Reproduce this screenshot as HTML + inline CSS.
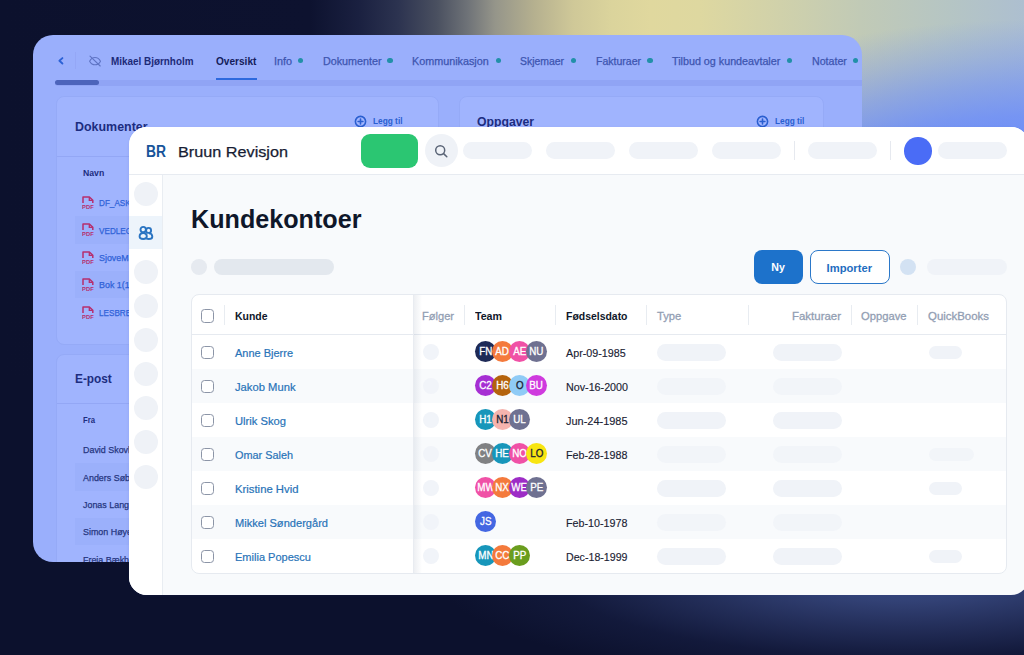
<!DOCTYPE html>
<html lang="no">
<head>
<meta charset="utf-8">
<title>Kundekontoer</title>
<style>
*{box-sizing:border-box;margin:0;padding:0}
html,body{width:1024px;height:655px;overflow:hidden}
body{font-family:"Liberation Sans",sans-serif;position:relative;background:#0c112d;
background-image:
 radial-gradient(ellipse 470px 112px at 905px 574px, rgba(60,76,132,1) 0%, rgba(54,70,124,.95) 22%, rgba(44,57,106,.72) 48%, rgba(30,40,84,.36) 74%, rgba(12,17,45,0) 100%),
 linear-gradient(180deg, rgba(12,17,45,0) 0px, rgba(12,17,45,0) 300px, #0c112d 380px, #0c112d 655px),
 radial-gradient(ellipse 500px 260px at 1024px 280px, rgba(104,138,252,.88) 0%, rgba(104,138,252,.86) 58%, rgba(104,138,252,.8) 63%, rgba(104,138,252,.55) 75%, rgba(104,138,252,.29) 86%, rgba(104,136,250,.06) 97%, rgba(104,136,250,0) 100%),
 linear-gradient(90deg, #0c112d 0px, #0d122f 310px, #1a2040 358px, #2c3350 398px, #4a5060 437px, #6f7378 468px, #95958a 495px, #b5b08f 534px, #cfc898 573px, #dbd49c 612px, #e0d89e 651px, #ded8a0 700px, #d2d2a9 770px, #c1cab6 860px, #b5c5c4 950px, #adbfd0 1024px);
}
.abs{position:absolute}
/* back panel */
#back{left:33px;top:35px;width:829px;height:527px;background:#9aaffc;border-radius:20px;overflow:hidden;color:#1d2a6e}
.bcard{position:absolute;background:#a0b4fe;border:1px solid #95aaf7;border-radius:8px}
.nv{position:absolute;font-size:10px;line-height:14px;color:#3d55b0;-webkit-text-stroke:.25px #3d55b0}
.nv.b1{color:#1c2a78;font-weight:bold;-webkit-text-stroke:0}
.nv.b2{color:#141c5a;font-weight:bold;-webkit-text-stroke:0}
.nd{position:absolute;width:5.2px;height:5.2px;border-radius:50%;background:#2190a8}
.legg{font-size:9.3px;font-weight:bold;color:#2a5fd0;line-height:12px}
/* front panel */
#front{left:129px;top:127px;width:900px;height:468px;background:#f8fafc;border-radius:18px 18px 18px 18px;overflow:hidden;box-shadow:0 1px 3px rgba(40,60,140,.10)}
#fhead{left:0;top:0;width:100%;height:48px;background:#fff;border-bottom:1px solid #e7ebf1}
#fside{left:0;top:48px;width:34px;height:420px;background:#fff;border-right:1px solid #e9edf2}
.pill{position:absolute;background:#f0f3f8;border-radius:99px}
.dot{position:absolute;border-radius:50%;background:#eff2f7}
#tbl{left:61px;top:168px;width:818px;height:279px;background:#fff;border:1px solid #e6eaf0;border-radius:8px;overflow:hidden}
.tr{position:absolute;left:0;width:100%;height:34px}
.tr.alt{background:#f8fafc}
.tr.alt .pill{background:#f2f5f9}
.th{position:absolute;top:1px;height:40px;line-height:40px;font-size:11.5px;font-weight:bold;color:#0f172a;white-space:nowrap}
.th.g{color:#929eb3;font-weight:normal;-webkit-text-stroke:.3px #929eb3}
.sep{position:absolute;top:10px;width:1px;height:20px;background:#e8ecf1}
.cb{position:absolute;left:10px;width:13.5px;height:13.5px;border:1.7px solid #8c95a7;border-radius:3.5px;background:#fff}
.nm{position:absolute;left:44px;top:.6px;font-size:11.5px;color:#2873b8;-webkit-text-stroke:.2px #2873b8;line-height:34px;white-space:nowrap}
.dt{position:absolute;left:375px;top:.8px;font-size:11.5px;color:#1a2233;-webkit-text-stroke:.15px #1a2233;line-height:34px;white-space:nowrap}
.av{position:absolute;width:21px;height:21px;border-radius:50%;font-size:10px;font-weight:normal;-webkit-text-stroke:.3px currentColor;letter-spacing:.1px;color:#fff;text-align:center;line-height:21px;top:6px;overflow:hidden}
.av span{transform-origin:50% 50%;transform:scaleX(.98)}
.tx{display:inline-block;transform-origin:0 50%;white-space:nowrap}
.btn{border-radius:8px;font-size:11px;font-weight:bold;text-align:center;line-height:34px}
.btn span{transform-origin:50% 50%}
</style>
<style id="scales">
#t_br{transform:scaleX(0.8654)}
#t_bruun{transform:scaleX(1.0680)}
#t_title{transform:scaleX(0.9828)}
#t_ny{transform:scaleX(0.9600)}
#t_imp{transform:scaleX(1.0196)}
#t_n0{transform:scaleX(0.9550)}
#t_n1{transform:scaleX(0.9756)}
#t_n2{transform:scaleX(0.9732)}
#t_n3{transform:scaleX(0.9453)}
#t_n4{transform:scaleX(0.9835)}
#t_n5{transform:scaleX(0.9636)}
#t_n6{transform:scaleX(0.9588)}
#t_d0{transform:scaleX(0.9337)}
#t_d1{transform:scaleX(0.9325)}
#t_d2{transform:scaleX(0.9523)}
#t_d3{transform:scaleX(0.9338)}
#t_d5{transform:scaleX(0.9338)}
#t_d6{transform:scaleX(0.9250)}
#t_hkunde{transform:scaleX(0.9083)}
#t_hfolger{transform:scaleX(0.9629)}
#t_hteam{transform:scaleX(0.9246)}
#t_hfod{transform:scaleX(0.9080)}
#t_htype{transform:scaleX(0.9744)}
#t_hfakt{transform:scaleX(0.9956)}
#t_hoppg{transform:scaleX(0.9746)}
#t_hqb{transform:scaleX(0.9941)}
#t_mik{transform:scaleX(0.9897)}
#t_ovs{transform:scaleX(1.0092)}
#t_inf{transform:scaleX(1.0846)}
#t_dok{transform:scaleX(1.0740)}
#t_kom{transform:scaleX(1.0779)}
#t_skj{transform:scaleX(1.0438)}
#t_fak{transform:scaleX(1.0515)}
#t_til{transform:scaleX(1.0743)}
#t_not{transform:scaleX(1.0641)}
#t_lg1{transform:scaleX(0.8922)}
#t_lg2{transform:scaleX(0.8892)}
#t_hdok{transform:scaleX(0.9291)}
#t_hopp{transform:scaleX(0.9134)}
#t_hepo{transform:scaleX(0.8834)}
#t_navn{transform:scaleX(0.9325)}
#t_fra{transform:scaleX(0.8294)}
</style>
</head>
<body>
<div id="back" class="abs">
<!--BACK-START-->
<div class="abs" style="left:22px;top:44.6px;width:820px;height:6.4px;background:#90a4f5;border-radius:3px 0 0 3px"></div>
<div class="abs" style="left:22.3px;top:45.1px;width:43.6px;height:5.4px;border-radius:3px;background:#4c64bb"></div>
<div class="abs" style="left:183px;top:43.4px;width:41px;height:1.8px;background:#2d69de"></div>
<svg class="abs" style="left:23px;top:20px" width="10" height="12" viewBox="0 0 10 12" fill="none" stroke="#2c62d6" stroke-width="1.9" stroke-linecap="round" stroke-linejoin="round"><path d="M6.400 3.100 L3.400 5.800 L6.400 8.500"/></svg>
<div class="abs" style="left:42px;top:17px;width:1px;height:17px;background:#94a7f6"></div>
<svg class="abs" style="left:54.5px;top:19px" width="14" height="14" viewBox="0 0 14 14" fill="none" stroke="#5f74c4" stroke-width="1.1" stroke-linecap="round" stroke-linejoin="round"><path d="M2 2.2 L12.2 12"/><path d="M1.6 7.2 C3 4.6 5 3.5 7 3.5 C9.4 3.500 11.3 4.900 12.5 7.200 C11.3 9.500 9.400 10.800 7 10.800 C5 10.800 3 9.700 1.600 7.200 Z"/></svg>
<span class="nv tx b1" id="t_mik" style="left:78.3px;top:20px">Mikael Bjørnholm</span>
<span class="nv tx b2" id="t_ovs" style="left:183px;top:20px">Oversikt</span>
<span class="nv tx " id="t_inf" style="left:240.6px;top:20px">Info</span>
<i class="nd" style="left:264.7px;top:23.2px"></i>
<span class="nv tx " id="t_dok" style="left:289.5px;top:20px">Dokumenter</span>
<i class="nd" style="left:354.4px;top:23.2px"></i>
<span class="nv tx " id="t_kom" style="left:379.3px;top:20px">Kommunikasjon</span>
<i class="nd" style="left:462.8px;top:23.2px"></i>
<span class="nv tx " id="t_skj" style="left:487.2px;top:20px">Skjemaer</span>
<i class="nd" style="left:538.0px;top:23.2px"></i>
<span class="nv tx " id="t_fak" style="left:562.8px;top:20px">Fakturaer</span>
<i class="nd" style="left:614.4px;top:23.2px"></i>
<span class="nv tx " id="t_til" style="left:639.3px;top:20px">Tilbud og kundeavtaler</span>
<i class="nd" style="left:753.8px;top:23.2px"></i>
<span class="nv tx " id="t_not" style="left:778.7px;top:20px">Notater</span>
<i class="nd" style="left:819.8px;top:23.2px"></i>
<div class="bcard" style="left:22.5px;top:61px;width:383px;height:249px"></div>
<div class="abs tx" id="t_hdok" style="left:42px;top:83px;font-size:13.4px;font-weight:bold;color:#1c2d80;line-height:18px">Dokumenter</div>
<svg class="abs" style="left:321.1px;top:79.5px" width="13" height="13" viewBox="0 0 13 13" fill="none" stroke="#2a5fd0" stroke-width="1.6" stroke-linecap="round"><circle cx="6.5" cy="6.5" r="5.1"/><path d="M6.5 4.1v4.8M4.100 6.500h4.800"/></svg>
<div class="abs tx legg" id="t_lg1" style="left:339.5px;top:80px">Legg til</div>
<div class="abs" style="left:23.5px;top:120.5px;width:381px;height:1px;background:#93a7f5"></div>
<div class="abs tx" id="t_navn" style="left:49.8px;top:131.5px;font-size:9.3px;font-weight:bold;color:#1c2d80;line-height:13px">Navn</div>
<svg class="abs" style="left:49px;top:161.0px" width="12" height="13" viewBox="0 0 12 13" fill="none"><path d="M1 7V1h6.400l3.400 3.200V7" stroke="#b62e6d" stroke-width="1.500" stroke-linejoin="round"/><path d="M7.300 1.200v3.200h3.400" stroke="#b62e6d" stroke-width="1.300"/><text x="0.100" y="12.600" font-family="Liberation Sans" font-weight="bold" font-size="5.800" fill="#b62e6d" textLength="11.600" lengthAdjust="spacingAndGlyphs">PDF</text></svg>
<div class="abs tx" id="t_p0" style="left:66.3px;top:161.1px;font-size:9.4px;color:#2f62d8;line-height:14px;transform:scaleX(.87);-webkit-text-stroke:.25px #2f62d8">DF_ASKER</div>
<div class="abs" style="left:41.5px;top:181.3px;width:300px;height:27.4px;background:#9bb0fb"></div>
<svg class="abs" style="left:49px;top:188.4px" width="12" height="13" viewBox="0 0 12 13" fill="none"><path d="M1 7V1h6.400l3.400 3.200V7" stroke="#b62e6d" stroke-width="1.500" stroke-linejoin="round"/><path d="M7.300 1.200v3.200h3.400" stroke="#b62e6d" stroke-width="1.300"/><text x="0.100" y="12.600" font-family="Liberation Sans" font-weight="bold" font-size="5.800" fill="#b62e6d" textLength="11.600" lengthAdjust="spacingAndGlyphs">PDF</text></svg>
<div class="abs tx" id="t_p1" style="left:66.3px;top:188.5px;font-size:9.4px;color:#2f62d8;line-height:14px;transform:scaleX(.87);-webkit-text-stroke:.25px #2f62d8">VEDLEGG</div>
<svg class="abs" style="left:49px;top:215.8px" width="12" height="13" viewBox="0 0 12 13" fill="none"><path d="M1 7V1h6.400l3.400 3.200V7" stroke="#b62e6d" stroke-width="1.500" stroke-linejoin="round"/><path d="M7.300 1.200v3.200h3.400" stroke="#b62e6d" stroke-width="1.300"/><text x="0.100" y="12.600" font-family="Liberation Sans" font-weight="bold" font-size="5.800" fill="#b62e6d" textLength="11.600" lengthAdjust="spacingAndGlyphs">PDF</text></svg>
<div class="abs tx" id="t_p2" style="left:66.3px;top:215.9px;font-size:9.4px;color:#2f62d8;line-height:14px;transform:scaleX(.95);-webkit-text-stroke:.25px #2f62d8">SjoveMail</div>
<div class="abs" style="left:41.5px;top:236.1px;width:300px;height:27.4px;background:#9bb0fb"></div>
<svg class="abs" style="left:49px;top:243.2px" width="12" height="13" viewBox="0 0 12 13" fill="none"><path d="M1 7V1h6.400l3.400 3.200V7" stroke="#b62e6d" stroke-width="1.500" stroke-linejoin="round"/><path d="M7.300 1.200v3.200h3.400" stroke="#b62e6d" stroke-width="1.300"/><text x="0.100" y="12.600" font-family="Liberation Sans" font-weight="bold" font-size="5.800" fill="#b62e6d" textLength="11.600" lengthAdjust="spacingAndGlyphs">PDF</text></svg>
<div class="abs tx" id="t_p3" style="left:66.3px;top:243.3px;font-size:9.4px;color:#2f62d8;line-height:14px;transform:scaleX(.95);-webkit-text-stroke:.25px #2f62d8">Bok 1(1)</div>
<svg class="abs" style="left:49px;top:270.6px" width="12" height="13" viewBox="0 0 12 13" fill="none"><path d="M1 7V1h6.400l3.400 3.200V7" stroke="#b62e6d" stroke-width="1.500" stroke-linejoin="round"/><path d="M7.300 1.200v3.200h3.400" stroke="#b62e6d" stroke-width="1.300"/><text x="0.100" y="12.600" font-family="Liberation Sans" font-weight="bold" font-size="5.800" fill="#b62e6d" textLength="11.600" lengthAdjust="spacingAndGlyphs">PDF</text></svg>
<div class="abs tx" id="t_p4" style="left:66.3px;top:270.7px;font-size:9.4px;color:#2f62d8;line-height:14px;transform:scaleX(.87);-webkit-text-stroke:.25px #2f62d8">LESBREV</div>
<div class="bcard" style="left:425.5px;top:61px;width:365px;height:249px"></div>
<div class="abs tx" id="t_hopp" style="left:444px;top:77.7px;font-size:13.4px;font-weight:bold;color:#1c2d80;line-height:18px">Oppgaver</div>
<svg class="abs" style="left:723.0px;top:79.5px" width="13" height="13" viewBox="0 0 13 13" fill="none" stroke="#2a5fd0" stroke-width="1.6" stroke-linecap="round"><circle cx="6.5" cy="6.5" r="5.1"/><path d="M6.5 4.1v4.8M4.100 6.500h4.800"/></svg>
<div class="abs tx legg" id="t_lg2" style="left:741.7px;top:80px">Legg til</div>
<div class="bcard" style="left:22.5px;top:319px;width:383px;height:240px"></div>
<div class="abs tx" id="t_hepo" style="left:41.5px;top:334.8px;font-size:13.4px;font-weight:bold;color:#1c2d80;line-height:18px">E-post</div>
<div class="abs" style="left:23.5px;top:368px;width:381px;height:1px;background:#93a7f5"></div>
<div class="abs tx" id="t_fra" style="left:50px;top:379.3px;font-size:9.3px;font-weight:bold;color:#1c2d80;line-height:13px">Fra</div>
<div class="abs tx" id="t_e0" style="left:50px;top:408.2px;font-size:9.4px;color:#26367f;line-height:14px;transform:scaleX(.95);-webkit-text-stroke:.25px #26367f">David Skovlund</div>
<div class="abs" style="left:41.5px;top:428.2px;width:300px;height:27.4px;background:#9bb0fb"></div>
<div class="abs tx" id="t_e1" style="left:50px;top:435.6px;font-size:9.4px;color:#26367f;line-height:14px;transform:scaleX(.95);-webkit-text-stroke:.25px #26367f">Anders Søby</div>
<div class="abs tx" id="t_e2" style="left:50px;top:463.0px;font-size:9.4px;color:#26367f;line-height:14px;transform:scaleX(.95);-webkit-text-stroke:.25px #26367f">Jonas Lange</div>
<div class="abs" style="left:41.5px;top:483.0px;width:300px;height:27.4px;background:#9bb0fb"></div>
<div class="abs tx" id="t_e3" style="left:50px;top:490.4px;font-size:9.4px;color:#26367f;line-height:14px;transform:scaleX(.95);-webkit-text-stroke:.25px #26367f">Simon Høyer</div>
<div class="abs tx" id="t_e4" style="left:50px;top:517.8px;font-size:9.4px;color:#26367f;line-height:14px;transform:scaleX(.95);-webkit-text-stroke:.25px #26367f">Freja Bækholm</div>
<!--BACK-END-->
</div>

<div id="front" class="abs">
<!--FRONT-START-->
<div id="fhead" class="abs"></div>
<div class="abs tx" style="left:17px;top:13.8px;font-size:16px;line-height:22px;font-weight:bold;color:#17549a" id="t_br">BR</div>
<div class="abs tx" style="left:49px;top:14.2px;font-size:15.2px;line-height:22px;color:#171c33;-webkit-text-stroke:.25px #171c33" id="t_bruun">Bruun Revisjon</div>
<div class="abs" style="left:231.5px;top:6.5px;width:57px;height:34px;border-radius:9px;background:#2bc672"></div>
<div class="abs" style="left:296px;top:7.3px;width:33px;height:33px;border-radius:50%;background:#eff2f7"></div>
<svg class="abs" style="left:304.4px;top:16.3px" width="16" height="16" viewBox="0 0 16 16" fill="none" stroke="#5a6476" stroke-width="1.5" stroke-linecap="round"><circle cx="7.2" cy="7.2" r="4.5"/><path d="M10.600 10.600 L13.800 13.800"/></svg>
<div class="pill" style="left:334px;top:15.4px;width:69px;height:17px"></div>
<div class="pill" style="left:417px;top:15.4px;width:69px;height:17px"></div>
<div class="pill" style="left:500px;top:15.4px;width:69px;height:17px"></div>
<div class="pill" style="left:582.5px;top:15.4px;width:69.0px;height:17px"></div>
<div class="pill" style="left:678.5px;top:15.4px;width:69.0px;height:17px"></div>
<div class="pill" style="left:809px;top:15.4px;width:69px;height:17px"></div>
<div class="abs" style="left:664.5px;top:14px;width:1px;height:19px;background:#e6e9ef"></div>
<div class="abs" style="left:760.5px;top:14px;width:1px;height:19px;background:#e6e9ef"></div>
<div class="abs" style="left:775px;top:10px;width:27.5px;height:27.5px;border-radius:50%;background:#4a6cf6"></div>
<div id="fside" class="abs"></div>
<div class="abs" style="left:0;top:89.3px;width:33px;height:32.5px;background:#edf4fb"></div>
<div class="dot" style="left:4.7px;top:54.5px;width:24px;height:24px"></div>
<div class="dot" style="left:4.7px;top:132.5px;width:24px;height:24px"></div>
<div class="dot" style="left:4.7px;top:166.5px;width:24px;height:24px"></div>
<div class="dot" style="left:4.7px;top:200.8px;width:24px;height:24px"></div>
<div class="dot" style="left:4.7px;top:234.8px;width:24px;height:24px"></div>
<div class="dot" style="left:4.7px;top:269px;width:24px;height:24px"></div>
<div class="dot" style="left:4.7px;top:303.3px;width:24px;height:24px"></div>
<div class="dot" style="left:4.7px;top:337.5px;width:24px;height:24px"></div>
<svg class="abs" style="left:9px;top:97.5px" width="16" height="16" viewBox="0 0 16 16" fill="none" stroke="#2a74c2" stroke-width="1.9"><circle cx="5.2" cy="4.6" r="2.7"/><circle cx="10.6" cy="5.4" r="2.5"/><path d="M1.6 11.6c0-2.2 1.6-3.6 3.6-3.6s3.6 1.4 3.6 3.6c0 1.6-1.6 2.4-3.6 2.4s-3.6-.8-3.6-2.4z"/><path d="M8.4 13.6c.7.3 1.5.4 2.3.4 2 0 3.6-.8 3.6-2.3 0-2-1.500-3.300-3.400-3.300"/></svg>
<div class="abs tx" style="left:61.5px;top:76.1px;font-size:25.6px;font-weight:bold;color:#0f172a;line-height:32px" id="t_title">Kundekontoer</div>
<div class="abs" style="left:61.5px;top:131.5px;width:16.5px;height:16px;border-radius:50%;background:#e6eaf0"></div>
<div class="abs" style="left:85px;top:131.5px;width:120px;height:16px;border-radius:8px;background:#e3e8ee"></div>
<div class="abs btn" style="left:625px;top:122.5px;width:48.5px;height:34px;background:#1d72cb;color:#fff"><span class="tx" id="t_ny">Ny</span></div>
<div class="abs btn" style="left:680.5px;top:122.5px;width:80.5px;height:34px;background:#fff;color:#1f6dc0;border:1.5px solid #2b78c9"><span class="tx" id="t_imp">Importer</span></div>
<div class="abs" style="left:770.5px;top:131.5px;width:16.5px;height:16.5px;border-radius:50%;background:#d3e2f3"></div>
<div class="pill" style="left:798px;top:131.5px;width:80px;height:16px"></div>
<div id="tbl" class="abs" style="left:61.5px;top:167px;width:816.5px;height:279.5px">
<div class="abs" style="left:0;top:38.8px;width:100%;height:1px;background:#e6eaf0"></div>
<div class="tr" style="top:40.1px">
<div class="cb" style="left:9.0px;top:10.5px"></div>
<div class="nm tx" style="left:43.0px" id="t_n0">Anne Bjerre</div>
<div class="dot" style="left:231.5px;top:9px;width:16px;height:16px;background:#f1f4f9"></div>
<div class="av" style="left:283.5px;background:#1e2a57;color:#fff;z-index:1"><span class="tx">FN</span></div>
<div class="av" style="left:300.5px;background:#f47a3c;color:#fff;z-index:2"><span class="tx">AD</span></div>
<div class="av" style="left:317.5px;background:#f051a6;color:#fff;z-index:3"><span class="tx">AE</span></div>
<div class="av" style="left:334.5px;background:#6f7191;color:#fff;z-index:4"><span class="tx">NU</span></div>
<div class="dt tx" style="left:374.5px" id="t_d0">Apr-09-1985</div>
<div class="pill" style="left:465.5px;top:8.5px;width:69px;height:17px"></div>
<div class="pill" style="left:581.0px;top:8.5px;width:69px;height:17px"></div>
<div class="pill" style="left:737.0px;top:10.5px;width:33px;height:13px"></div>
</div>
<div class="tr alt" style="top:74.13px">
<div class="cb" style="left:9.0px;top:10.5px"></div>
<div class="nm tx" style="left:43.0px" id="t_n1">Jakob Munk</div>
<div class="dot" style="left:231.5px;top:9px;width:16px;height:16px;background:#f1f4f9"></div>
<div class="av" style="left:283.5px;background:#a62fd3;color:#fff;z-index:1"><span class="tx">C2</span></div>
<div class="av" style="left:300.5px;background:#b4630d;color:#fff;z-index:2"><span class="tx">H6</span></div>
<div class="av" style="left:317.5px;background:#8fcbf6;color:#1a2233;z-index:3"><span class="tx">O</span></div>
<div class="av" style="left:334.5px;background:#cf3ade;color:#fff;z-index:4"><span class="tx">BU</span></div>
<div class="dt tx" style="left:374.5px" id="t_d1">Nov-16-2000</div>
<div class="pill" style="left:465.5px;top:8.5px;width:69px;height:17px"></div>
<div class="pill" style="left:581.0px;top:8.5px;width:69px;height:17px"></div>
</div>
<div class="tr" style="top:108.16px">
<div class="cb" style="left:9.0px;top:10.5px"></div>
<div class="nm tx" style="left:43.0px" id="t_n2">Ulrik Skog</div>
<div class="dot" style="left:231.5px;top:9px;width:16px;height:16px;background:#f1f4f9"></div>
<div class="av" style="left:283.5px;background:#1796ba;color:#fff;z-index:1"><span class="tx">H1</span></div>
<div class="av" style="left:300.5px;background:#f5b4ae;color:#1a2233;z-index:2"><span class="tx">N1</span></div>
<div class="av" style="left:317.5px;background:#6f7191;color:#fff;z-index:3"><span class="tx">UL</span></div>
<div class="dt tx" style="left:374.5px" id="t_d2">Jun-24-1985</div>
<div class="pill" style="left:465.5px;top:8.5px;width:69px;height:17px"></div>
<div class="pill" style="left:581.0px;top:8.5px;width:69px;height:17px"></div>
</div>
<div class="tr alt" style="top:142.19px">
<div class="cb" style="left:9.0px;top:10.5px"></div>
<div class="nm tx" style="left:43.0px" id="t_n3">Omar Saleh</div>
<div class="dot" style="left:231.5px;top:9px;width:16px;height:16px;background:#f1f4f9"></div>
<div class="av" style="left:283.5px;background:#808183;color:#fff;z-index:1"><span class="tx">CV</span></div>
<div class="av" style="left:300.5px;background:#1796ba;color:#fff;z-index:2"><span class="tx">HE</span></div>
<div class="av" style="left:317.5px;background:#f051a6;color:#fff;z-index:3"><span class="tx">NO</span></div>
<div class="av" style="left:334.5px;background:#f8e512;color:#1a2233;z-index:4"><span class="tx">LO</span></div>
<div class="dt tx" style="left:374.5px" id="t_d3">Feb-28-1988</div>
<div class="pill" style="left:465.5px;top:8.5px;width:69px;height:17px"></div>
<div class="pill" style="left:581.0px;top:8.5px;width:69px;height:17px"></div>
<div class="pill" style="left:737.0px;top:10.5px;width:45.5px;height:13px"></div>
</div>
<div class="tr" style="top:176.22px">
<div class="cb" style="left:9.0px;top:10.5px"></div>
<div class="nm tx" style="left:43.0px" id="t_n4">Kristine Hvid</div>
<div class="dot" style="left:231.5px;top:9px;width:16px;height:16px;background:#f1f4f9"></div>
<div class="av" style="left:283.5px;background:#f051a6;color:#fff;z-index:1"><span class="tx">MW</span></div>
<div class="av" style="left:300.5px;background:#f47a3c;color:#fff;z-index:2"><span class="tx">NX</span></div>
<div class="av" style="left:317.5px;background:#9d2cc6;color:#fff;z-index:3"><span class="tx">WE</span></div>
<div class="av" style="left:334.5px;background:#6f7191;color:#fff;z-index:4"><span class="tx">PE</span></div>
<div class="pill" style="left:465.5px;top:8.5px;width:69px;height:17px"></div>
<div class="pill" style="left:581.0px;top:8.5px;width:69px;height:17px"></div>
<div class="pill" style="left:737.0px;top:10.5px;width:33px;height:13px"></div>
</div>
<div class="tr alt" style="top:210.25px">
<div class="cb" style="left:9.0px;top:10.5px"></div>
<div class="nm tx" style="left:43.0px" id="t_n5">Mikkel Søndergård</div>
<div class="dot" style="left:231.5px;top:9px;width:16px;height:16px;background:#f1f4f9"></div>
<div class="av" style="left:283.5px;background:#4467e2;color:#fff;z-index:1"><span class="tx">JS</span></div>
<div class="dt tx" style="left:374.5px" id="t_d5">Feb-10-1978</div>
<div class="pill" style="left:465.5px;top:8.5px;width:69px;height:17px"></div>
<div class="pill" style="left:581.0px;top:8.5px;width:69px;height:17px"></div>
</div>
<div class="tr" style="top:244.28px">
<div class="cb" style="left:9.0px;top:10.5px"></div>
<div class="nm tx" style="left:43.0px" id="t_n6">Emilia Popescu</div>
<div class="dot" style="left:231.5px;top:9px;width:16px;height:16px;background:#f1f4f9"></div>
<div class="av" style="left:283.5px;background:#1796ba;color:#fff;z-index:1"><span class="tx">MN</span></div>
<div class="av" style="left:300.5px;background:#f47a3c;color:#fff;z-index:2"><span class="tx">CC</span></div>
<div class="av" style="left:317.5px;background:#6a9d1e;color:#fff;z-index:3"><span class="tx">PP</span></div>
<div class="dt tx" style="left:374.5px" id="t_d6">Dec-18-1999</div>
<div class="pill" style="left:465.5px;top:8.5px;width:69px;height:17px"></div>
<div class="pill" style="left:581.0px;top:8.5px;width:69px;height:17px"></div>
<div class="pill" style="left:737.0px;top:10.5px;width:33px;height:13px"></div>
</div>
<div class="abs" style="left:221.0px;top:0;width:1px;height:100%;background:#e9ecf1"></div>
<div class="abs" style="left:222.0px;top:0;width:8px;height:100%;background:linear-gradient(90deg,rgba(120,135,160,.13),rgba(120,135,160,0))"></div>
<div class="cb" style="left:9.0px;top:14px"></div>
<div class="th tx" style="left:43.0px" id="t_hkunde">Kunde</div>
<div class="th tx g" style="left:230.0px" id="t_hfolger">Følger</div>
<div class="th tx" style="left:283.0px" id="t_hteam">Team</div>
<div class="th tx" style="left:374.5px" id="t_hfod">Fødselsdato</div>
<div class="th tx g" style="left:465.5px" id="t_htype">Type</div>
<div class="th tx g" style="left:600.0px" id="t_hfakt">Fakturaer</div>
<div class="th tx g" style="left:669.5px" id="t_hoppg">Oppgave</div>
<div class="th tx g" style="left:736.0px" id="t_hqb">QuickBooks</div>
<div class="sep" style="left:32.0px"></div>
<div class="sep" style="left:272.5px"></div>
<div class="sep" style="left:363.5px"></div>
<div class="sep" style="left:454.5px"></div>
<div class="sep" style="left:556.5px"></div>
<div class="sep" style="left:659.0px"></div>
<div class="sep" style="left:725.0px"></div>
</div>
<!--FRONT-END-->
</div>
</body>
</html>
